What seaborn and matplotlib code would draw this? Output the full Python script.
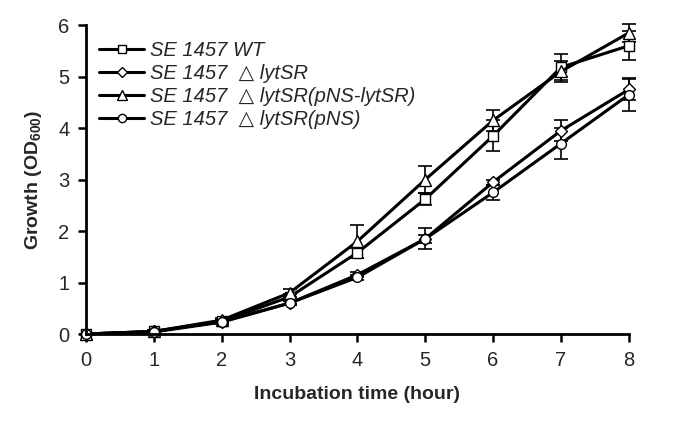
import numpy as np
import pandas as pd
import matplotlib
matplotlib.use("Agg")
import matplotlib.pyplot as plt
import seaborn as sns

# Data
hours = [0, 1, 2, 3, 4, 5, 6, 7, 8]
wt = [0.0, 0.05, 0.25, 0.72, 1.58, 2.62, 3.85, 5.18, 5.6]
wt_err = [0.0, 0.02, 0.03, 0.05, 0.1, 0.12, 0.3, 0.25, 0.28]
dlyt = [0.0, 0.05, 0.24, 0.6, 1.15, 1.85, 2.95, 3.95, 4.75]
dlyt_err = [0.0, 0.02, 0.03, 0.04, 0.05, 0.08, 0.05, 0.2, 0.2]
comp = [0.0, 0.05, 0.27, 0.8, 1.8, 3.0, 4.15, 5.1, 5.85]
comp_err = [0.0, 0.02, 0.04, 0.08, 0.32, 0.27, 0.2, 0.2, 0.18]
pns = [0.0, 0.04, 0.23, 0.6, 1.1, 1.85, 2.75, 3.7, 4.65]
pns_err = [0.0, 0.02, 0.03, 0.04, 0.05, 0.2, 0.15, 0.3, 0.32]

labels = [
    "SE 1457 WT",
    "SE 1457  \u25b3 lytSR",
    "SE 1457  \u25b3 lytSR(pNS-lytSR)",
    "SE 1457  \u25b3 lytSR(pNS)",
]
markers = ["s", "D", "^", "o"]
sizes = [7, 6, 8, 7]

sns.set_theme(style="ticks")
plt.rcParams["font.family"] = ["Liberation Sans", "DejaVu Sans"]
plt.rcParams["mathtext.fontset"] = "custom"
plt.rcParams["mathtext.rm"] = "Liberation Sans:bold"
plt.rcParams["mathtext.bf"] = "Liberation Sans:bold"

fig = plt.figure(figsize=(6.85, 4.41), dpi=100)
ax = fig.add_axes([0.1255, 0.2426, 0.7925, 0.7004])

series = [(wt, wt_err), (dlyt, dlyt_err), (comp, comp_err), (pns, pns_err)]
for (vals, errs), lab, m, s in zip(series, labels, markers, sizes):
    ax.errorbar(hours, vals, yerr=errs, fmt="none", ecolor="black",
                elinewidth=1.2, capsize=5, capthick=1.2, zorder=1)
    df = pd.DataFrame({"hour": hours, "od": vals})
    sns.lineplot(data=df, x="hour", y="od", ax=ax, color="black", lw=2.2,
                 marker=m, markersize=s, markerfacecolor="white",
                 markeredgecolor="black", markeredgewidth=1.0, label=lab,
                 zorder=2)

ax.set_xlim(0, 8)
ax.set_ylim(0, 6)
ax.set_xticks(range(0, 9))
ax.set_yticks(range(0, 7))
ax.tick_params(axis="both", labelsize=14.5, width=1.8, length=6, color="black",
               direction="out", pad=6)
for side in ["left", "bottom"]:
    ax.spines[side].set_linewidth(2)
    ax.spines[side].set_color("black")
sns.despine(ax=ax)
for ln in ax.lines:
    ln.set_clip_on(False)
for c in ax.collections:
    c.set_clip_on(False)

ax.set_xlabel("Incubation time (hour)", fontsize=14, fontweight="bold",
              labelpad=12)
ax.set_ylabel(r"Growth (OD$_{\mathregular{600}}$)", fontsize=14,
              fontweight="bold", labelpad=10)

leg = ax.legend(loc="upper left", frameon=False, fontsize=14.5,
                handlelength=2.2, handletextpad=0.3, labelspacing=0.2,
                markerscale=0.85, bbox_to_anchor=(0.01, 0.975),
                borderaxespad=0.0)
for t in leg.get_texts():
    t.set_style("italic")

fig.savefig("out.png", dpi=100)
